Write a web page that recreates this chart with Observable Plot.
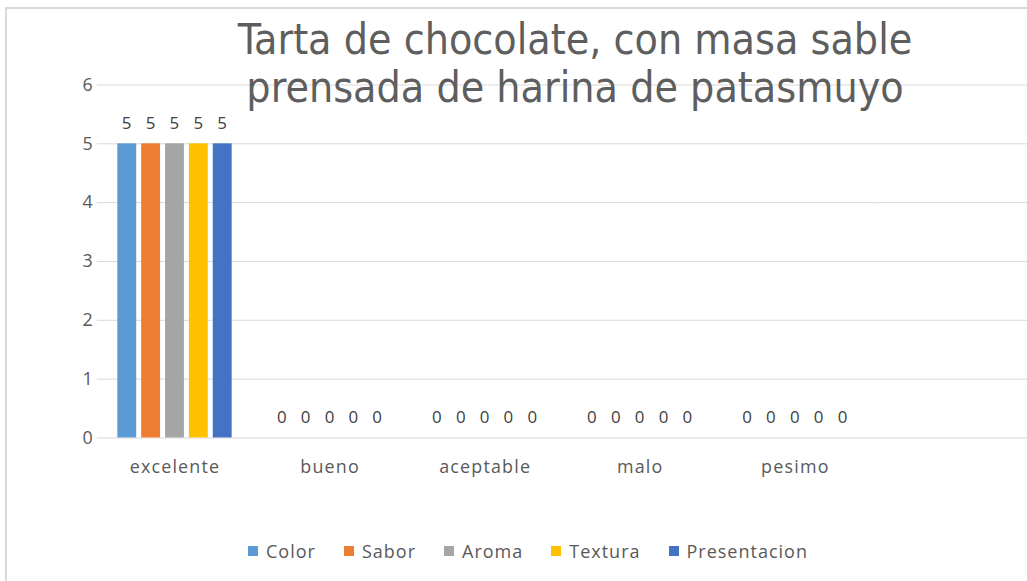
<!DOCTYPE html>
<html><head><meta charset="utf-8">
<script src="https://cdn.jsdelivr.net/npm/d3@7"></script>
<script src="https://cdn.jsdelivr.net/npm/@observablehq/plot@0.6"></script>
<style>
html,body{margin:0;padding:0;background:#fff;overflow:hidden;}
#wrap{position:relative;width:1027px;height:581px;overflow:hidden;background:#fff;}
#frame{position:absolute;left:5px;top:7px;width:1100px;height:700px;border-left:2px solid #d9d9d9;border-top:2px solid #d9d9d9;}
#chart{position:absolute;left:0;top:0;}
#title{position:absolute;left:0;top:16px;width:1150px;text-align:center;font-family:"Liberation Sans Narrow","DejaVu Sans Condensed",sans-serif;font-size:42.5px;line-height:48px;color:#5e5e5e;}
#title div{height:48px;}
#legend{position:absolute;top:540px;left:0;width:1056px;display:flex;justify-content:center;gap:28px;font-family:"Open Sans",sans-serif;font-size:18px;letter-spacing:1px;color:#595959;line-height:22px;}
#legend .item{display:flex;align-items:center;}
#legend .sw{width:10px;height:10px;margin-right:8px;}
</style></head>
<body>
<div id="wrap">
  <div id="frame"></div>
  <div id="chart"></div>
  <div id="title"><div>Tarta de chocolate, con masa sable</div><div>prensada de harina de patasmuyo</div></div>
  <div id="legend"></div>
</div>
<script>
const categories = ["excelente", "bueno", "aceptable", "malo", "pesimo"];
const series = ["Color", "Sabor", "Aroma", "Textura", "Presentacion"];
const seriesColors = ["#5B9BD5", "#ED7D31", "#A5A5A5", "#FFC000", "#4472C4"];
const colorValues = [5, 0, 0, 0, 0];
const saborValues = [5, 0, 0, 0, 0];
const aromaValues = [5, 0, 0, 0, 0];
const texturaValues = [5, 0, 0, 0, 0];
const presentacionValues = [5, 0, 0, 0, 0];
const yTicks = [0, 1, 2, 3, 4, 5, 6];

const valueLists = [colorValues, saborValues, aromaValues, texturaValues, presentacionValues];
const data = [];
categories.forEach((c, i) => {
  series.forEach((s, j) => data.push({category: c, series: s, value: valueLists[j][i]}));
});
// an empty sixth slot, as in the original (cropped) chart
const fxDomain = [...categories, ""];
const gridRows = fxDomain.flatMap(c => yTicks.map(t => ({category: c, tick: t})));

const chart = Plot.plot({
  width: 1033,
  height: 500,
  marginLeft: 97,
  marginRight: 0,
  marginTop: 85,
  marginBottom: 60,
  style: {fontFamily: "'Open Sans', sans-serif", fontSize: "18px", color: "#595959", background: "transparent", letterSpacing: "1.2px"},
  fx: {domain: fxDomain, paddingInner: 0.263, paddingOuter: 0.1315, label: null, axis: "bottom", tickSize: 0, tickPadding: 22},
  x: {domain: series, paddingInner: 0.21, paddingOuter: 0, axis: null},
  y: {domain: [0, 6], ticks: yTicks, tickSize: 0, tickPadding: 24, label: null, tickFormat: d3.format("d")},
  color: {domain: series, range: seriesColors},
  marks: [
    Plot.ruleY(gridRows, {fx: "category", y: "tick", stroke: "#d9d9d9", strokeWidth: 1, insetLeft: -20.6, insetRight: -20.6}),
    Plot.barY(data, {fx: "category", x: "series", y: "value", fill: "series"}),
    Plot.text(data, {fx: "category", x: "series", y: "value", text: d => String(d.value), dy: -20.5, fill: "#404040", fontSize: 17})
  ]
});
document.getElementById("chart").appendChild(chart);

const legend = document.getElementById("legend");
series.forEach((s, i) => {
  const item = document.createElement("div");
  item.className = "item";
  const sw = document.createElement("span");
  sw.className = "sw";
  sw.style.background = seriesColors[i];
  const t = document.createElement("span");
  t.textContent = s;
  item.appendChild(sw);
  item.appendChild(t);
  legend.appendChild(item);
});
</script>
</body></html>
